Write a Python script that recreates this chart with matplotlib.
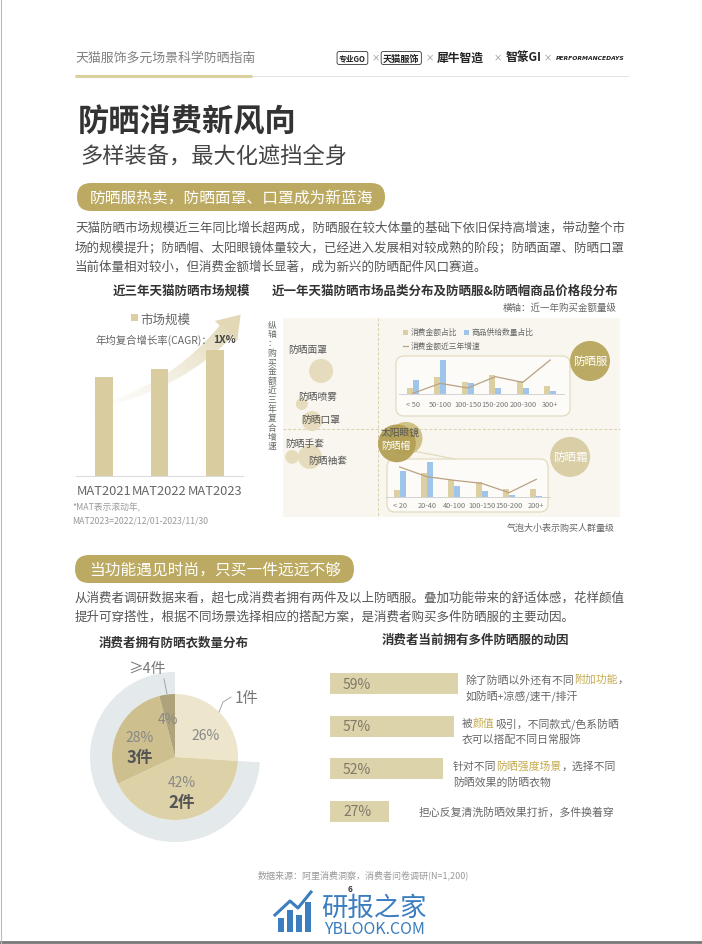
import numpy as np
import matplotlib
matplotlib.use('Agg')
import matplotlib.pyplot as plt
from matplotlib.patches import FancyBboxPatch, Rectangle, Wedge, Polygon
from matplotlib.collections import LineCollection
from matplotlib.colors import to_rgb

plt.rcParams['font.family'] = ['Noto Sans CJK SC', 'DejaVu Sans']

W, H = 702, 945

# ---- data ----
market_years = ['MAT2021', 'MAT2022', 'MAT2023']
market_size = [100, 108, 127]          # relative index, from bar heights

bubble_names = ['防晒面罩', '防晒喷雾', '防晒口罩', '防晒手套', '防晒袖套',
                '太阳眼镜', '防晒帽', '防晒霜', '防晒服']
bubble_amount = [11.3, 5.6, 8.6, 2.7, 8.0, 36.5, 33.8, 85.2, 91.1]    # x: 购买金额量级
bubble_growth = [73.4, 56.8, 48.2, 30.2, 30.2, 39.5, 37.0, 30.2, 78.4]  # y: 近三年复合增速
bubble_buyers = [300, 75, 205, 100, 300, 560, 740, 830, 830]          # 购买人群量级

cloth_price = ['< 50', '50-100', '100-150', '150-200', '200-300', '300+']
cloth_spend = [8, 23, 16, 25, 17, 11]
cloth_supply = [19, 46, 15, 8, 8, 4]
cloth_growth = [2, 32, 18, 52, 35, 102]

hat_price = ['< 20', '20-40', '40-100', '100-150', '150-200', '200+']
hat_spend = [9, 30, 21, 19, 10, 10]
hat_supply = [33, 44, 14, 7, 2, 1]
hat_growth = [90, 61, 50, 41, 13, 53]

own_labels = ['1件', '2件', '3件', '≥4件']
own_share = [26, 42, 28, 4]

reason_share = [59, 57, 52, 27]

GOLD = '#bcaa62'
BEIGE = '#dccfa2'
BLUE = '#9fc6ea'
LINEC = '#b9a285'
TXT = '#555555'

fig = plt.figure(figsize=(W / 100, H / 100), dpi=100, facecolor='white')
bg = fig.add_axes([0, 0, 1, 1], zorder=0)
bg.set_xlim(0, W)
bg.set_ylim(H, 0)
bg.axis('off')


def px_axes(x0, y0, x1, y1, z=1):
    ax = fig.add_axes([x0 / W, 1 - y1 / H, (x1 - x0) / W, (y1 - y0) / H], zorder=z)
    ax.set_facecolor('none')
    return ax


def pill(x0, y0, x1, y1, text, tx):
    bg.add_patch(FancyBboxPatch((x0, y0), x1 - x0, y1 - y0,
                                boxstyle='round,pad=0,rounding_size=%f' % ((y1 - y0) / 2),
                                fc=GOLD, ec='none'))
    bg.text(tx, (y0 + y1) / 2, text, color='white', fontsize=11.3, va='center')


def rich_line(x, y, parts, size=7.8):
    r = fig.canvas.get_renderer()
    for txt, col in parts:
        t = bg.text(x, y, txt, fontsize=size, color=col, va='center', ha='left')
        x += t.get_window_extent(renderer=r).width


# ---- header ----
bg.text(75, 58, '天猫服饰多元场景科学防晒指南', fontsize=9.3, color='#808080', va='center')
bg.plot([75, 252], [77, 77], color='#d9d19e', lw=2.2, solid_capstyle='butt')
bg.plot([252, 628], [77, 77], color='#dedede', lw=0.6)
bg.text(339, 59, '专业GO', fontsize=5.6, fontweight='bold', color='#222', va='center',
        bbox=dict(boxstyle='round,pad=0.25', fc='none', ec='#333', lw=0.6))
bg.text(383, 59, '天猫服饰', fontsize=6.6, fontweight='bold', color='#222', va='center',
        bbox=dict(boxstyle='round,pad=0.2', fc='none', ec='#333', lw=0.6))
bg.text(437, 58, '犀牛智造', fontsize=8.5, fontweight='bold', style='italic', color='#222', va='center')
bg.text(506, 57, '智篆GI', fontsize=8.5, fontweight='bold', color='#222', va='center')
bg.text(556, 58, 'PERFORMANCEDAYS', fontsize=4.3, fontweight='bold', style='italic',
        color='#222', va='center', family='DejaVu Sans')
for xm in [376, 430, 498, 548]:
    bg.text(xm, 58, '×', fontsize=6, color='#888', va='center', ha='center')

# ---- titles ----
bg.text(78, 123, '防晒消费新风向', fontsize=22.5, fontweight='bold', color='#333333', va='center')
bg.text(80, 157, '多样装备，最大化遮挡全身', fontsize=16, color='#444444', va='center')
pill(77, 184, 385, 212, '防晒服热卖，防晒面罩、口罩成为新蓝海', 90)

para1 = ['天猫防晒市场规模近三年同比增长超两成，防晒服在较大体量的基础下依旧保持高增速，带动整个市',
         '场的规模提升；防晒帽、太阳眼镜体量较大，已经进入发展相对较成熟的阶段；防晒面罩、防晒口罩',
         '当前体量相对较小，但消费金额增长显著，成为新兴的防晒配件风口赛道。']
for i, line in enumerate(para1):
    bg.text(75, 228 + 19.8 * i, line, fontsize=9, color=TXT, va='center')

# ---- left chart: market size ----
bg.text(181, 291, '近三年天猫防晒市场规模', fontsize=9, fontweight='bold', color='#333', va='center', ha='center')
bg.add_patch(Rectangle((131, 315), 6.5, 6.5, fc=BEIGE, ec='none'))
bg.text(140, 320, '市场规模', fontsize=9, color='#666', va='center')
bg.text(96, 340, '年均复合增长率(CAGR)：', fontsize=7.5, color='#666', va='center')
bg.text(213, 340, '1X%', fontsize=7.5, fontweight='bold', color='#444', va='center')

# swoosh arrow behind the bars
t = np.linspace(0, 1, 90)
p0, p1, p2 = np.array([86, 410]), np.array([172, 392]), np.array([226, 332])
curve = ((1 - t) ** 2)[:, None] * p0 + (2 * (1 - t) * t)[:, None] * p1 + (t ** 2)[:, None] * p2
segs = np.stack([curve[:-1], curve[1:]], axis=1)
cols = np.zeros((len(segs), 4))
cols[:, :3] = to_rgb('#e2d8b6')
cols[:, 3] = t[1:] ** 1.6
bg.add_collection(LineCollection(segs, colors=cols, linewidths=1 + 11 * t[1:], capstyle='butt'))
d = (p2 - p1) / np.linalg.norm(p2 - p1)
n = np.array([-d[1], d[0]])
bg.add_patch(Polygon([p2 + d * 22, p2 + n * 15, p2 - n * 15], closed=True, fc='#e2d8b6', ec='none'))

axm = px_axes(76, 300, 243, 477)
axm.bar(range(len(market_size)), market_size, width=0.32, color='#d9cc9f')
axm.set_xlim(-0.5, 2.5)
axm.set_ylim(0, 100 * 177 / 99)
axm.set_xticks(range(len(market_years)))
axm.set_xticklabels(market_years, fontsize=9.3, color='#666')
axm.tick_params(length=0, pad=6)
axm.set_yticks([])
for s in ['top', 'left', 'right']:
    axm.spines[s].set_visible(False)
axm.spines['bottom'].set_color('#dddddd')
axm.spines['bottom'].set_linewidth(0.8)
bg.text(72, 508, '*MAT表示滚动年,', fontsize=6.3, color='#999', va='center')
bg.text(72, 521, 'MAT2023=2022/12/01-2023/11/30', fontsize=6.3, color='#999', va='center')

# ---- right chart: bubbles + insets ----
bg.text(445, 291, '近一年天猫防晒市场品类分布及防晒服&防晒帽商品价格段分布', fontsize=9,
        fontweight='bold', color='#333', va='center', ha='center')
bg.text(617, 308, '横轴：近一年购买金额量级', fontsize=6.8, color='#666', va='center', ha='right')
bg.add_patch(Rectangle((283, 319), 337, 199, fc='#f8f6ee', ec='none'))
bg.plot([378, 378], [319, 518], color='#d8cfae', lw=0.7, ls=(0, (3, 2)))
bg.plot([283, 620], [430, 430], color='#d8cfae', lw=0.7, ls=(0, (3, 2)))
bg.text(272, 386, '\n'.join('纵轴：购买金额近三年复合增速'), fontsize=6.3, color='#666',
        va='center', ha='center', linespacing=1.05)
bg.text(615, 528, '气泡大小表示购买人群量级', fontsize=6.5, color='#666', va='center', ha='right')

# inset boxes
bg.add_patch(FancyBboxPatch((396, 357), 174, 60, boxstyle='round,pad=0,rounding_size=8',
                            fc='#fcfbf7', ec='#e3dbc0', lw=0.9))
bg.add_patch(FancyBboxPatch((387, 460), 161, 53, boxstyle='round,pad=0,rounding_size=8',
                            fc='#fcfbf7', ec='#e3dbc0', lw=0.9))
bg.plot([413, 455], [452, 460], color='#e3dbc0', lw=0.9)

# legend of insets
bg.add_patch(Rectangle((403, 330.5), 5, 5, fc=BEIGE, ec='none'))
bg.text(411, 333, '消费金额占比', fontsize=5.6, color='#666', va='center')
bg.add_patch(Rectangle((464, 330.5), 5, 5, fc=BLUE, ec='none'))
bg.text(472, 333, '商品供给数量占比', fontsize=5.6, color='#666', va='center')
bg.plot([403, 408], [347, 347], color=LINEC, lw=0.9)
bg.text(411, 347, '消费金额近三年增速', fontsize=5.6, color='#666', va='center')

axb = px_axes(283, 319, 620, 518, z=2)
bcol = ['#e5dbbb'] * 5 + ['#cdbd7e', '#b3a054', '#d8cca2', '#b8a65b']
axb.scatter(bubble_amount, bubble_growth, s=bubble_buyers, c=bcol, edgecolors='none', alpha=0.95)
axb.set_xlim(0, 100)
axb.set_ylim(0, 100)
axb.axis('off')
lab_off = {'防晒面罩': (-9.8, 11.0, 'left', '#555'), '防晒喷雾': (-1.2, 4.0, 'left', '#555'),
           '防晒口罩': (-3.3, 1.0, 'left', '#555'), '防晒手套': (-2.1, 7.0, 'left', '#555'),
           '防晒袖套': (-0.6, -1.6, 'left', '#555'), '太阳眼镜': (-7.4, 3.2, 'left', '#555'),
           '防晒帽': (-4.7, -0.8, 'left', 'white'), '防晒霜': (0, 0, 'center', 'white'),
           '防晒服': (0, 0.3, 'center', 'white')}
for nm, xv, yv in zip(bubble_names, bubble_amount, bubble_growth):
    dx, dy, ha, col = lab_off[nm]
    fs = 8.3 if nm in ('防晒霜', '防晒服') else 7
    axb.text(xv + dx, yv + dy, nm, fontsize=fs, color=col, ha=ha, va='center')


def inset(x0, y0, x1, y1, cats, spend, supply, growth, ytop, gtop, pad):
    ax = px_axes(x0, y0, x1, y1, z=3)
    xs = np.arange(len(cats))
    ax.bar(xs - 0.11, spend, width=0.22, color=BEIGE)
    ax.bar(xs + 0.11, supply, width=0.22, color=BLUE)
    ax.set_xlim(-0.5, len(cats) - 0.5)
    ax.set_ylim(0, ytop)
    ax.set_xticks(xs)
    ax.set_xticklabels(cats, fontsize=5.3, color='#777')
    ax.tick_params(length=0, pad=pad)
    ax.set_yticks([])
    for s in ['top', 'left', 'right']:
        ax.spines[s].set_visible(False)
    ax.spines['bottom'].set_color('#cccccc')
    ax.spines['bottom'].set_linewidth(0.6)
    ax2 = ax.twinx()
    ax2.plot(xs, growth, color=LINEC, lw=0.9)
    ax2.set_ylim(0, gtop)
    ax2.axis('off')


inset(399, 355, 564, 395, cloth_price, cloth_spend, cloth_supply, cloth_growth, 54, 120, 4)
inset(386, 460, 550, 498, hat_price, hat_spend, hat_supply, hat_growth, 47.8, 114, 3)

# ---- section 2 ----
pill(75, 556, 354, 584, '当功能遇见时尚，只买一件远远不够', 89)
para2 = ['从消费者调研数据来看，超七成消费者拥有两件及以上防晒服。叠加功能带来的舒适体感，花样颜值',
         '提升可穿搭性，根据不同场景选择相应的搭配方案，是消费者购买多件防晒服的主要动因。']
for i, line in enumerate(para2):
    bg.text(75, 598 + 19.5 * i, line, fontsize=9, color=TXT, va='center')

# pie
bg.text(174, 643, '消费者拥有防晒衣数量分布', fontsize=9, fontweight='bold', color='#333', va='center', ha='center')
axp = px_axes(75, 658, 275, 858)
axp.add_patch(Wedge((0, 0), 85, 90, 90 + (100 - own_share[0]) * 3.6, width=22, fc='#e4e9eb', ec='none'))
axp.pie(own_share, radius=63, startangle=90, counterclock=False,
        colors=['#ede5cc', '#ddd1a7', '#cdbf8e', '#afa37b'])
axp.set_xlim(-100, 100)
axp.set_ylim(-100, 100)
axp.set_aspect('equal')
axp.text(31, 22, '26%', fontsize=10, color='#888', ha='center', va='center')
axp.text(7, -25, '42%', fontsize=10, color='#888', ha='center', va='center')
axp.text(7, -45, own_labels[1], fontsize=12, fontweight='bold', color='#555', ha='center', va='center')
axp.text(-35, 20, '28%', fontsize=10, color='#888', ha='center', va='center')
axp.text(-35, 0, own_labels[2], fontsize=12, fontweight='bold', color='#555', ha='center', va='center')
axp.text(-7, 38, '4%', fontsize=10, color='#888', ha='center', va='center')
axp.plot([44, 48, 56], [45, 55, 60], color='#999', lw=0.6)
axp.text(60, 60, own_labels[0], fontsize=11, color='#777', ha='left', va='center')
axp.plot([-8, -11], [63, 78], color='#999', lw=0.6)
axp.text(-28, 89, own_labels[3], fontsize=10.5, color='#777', ha='center', va='center')

# reasons bar chart
bg.text(475, 640, '消费者当前拥有多件防晒服的动因', fontsize=9, fontweight='bold', color='#333', va='center', ha='center')
axr = px_axes(330, 663.5, 640, 833.5)
ys = np.arange(len(reason_share))
axr.barh(ys, reason_share, height=0.49, color='#dcd3ab')
axr.set_ylim(3.5, -0.5)
axr.set_xlim(0, 310 / 2.17)
axr.axis('off')
for yv, v in zip(ys, reason_share):
    axr.text(6, yv, '%d%%' % v, fontsize=10, color='#7d7868', va='center', ha='left')

HL = '#c4a94c'
G = '#666666'
rich_line(465, 680, [('除了防晒以外还有不同', G), ('附加功能', HL), ('，', G)])
rich_line(465, 696, [('如防晒+凉感/速干/排汗', G)])
rich_line(462, 724, [('被', G), ('颜值', HL), ('吸引，不同款式/色系防晒', G)])
rich_line(462, 739, [('衣可以搭配不同日常服饰', G)])
rich_line(453, 767, [('针对不同', G), ('防晒强度场景', HL), ('，选择不同', G)])
rich_line(453, 782, [('防晒效果的防晒衣物', G)])
rich_line(419, 812, [('担心反复清洗防晒效果打折，多件换着穿', G)])

# ---- footer ----
bg.text(363, 875, '数据来源：阿里消费洞察，消费者问卷调研(N=1,200)', fontsize=6.5, color='#999', va='center', ha='center')
bg.text(350, 890, '6', fontsize=6, fontweight='bold', color='#333', va='center', ha='center')
BLU = '#3b7dbf'
for bx, bh in zip([278, 287, 296, 305], [14, 22, 17, 30]):
    bg.add_patch(Rectangle((bx, 933 - bh), 5.5, bh, fc=BLU, ec='none'))
bg.plot([275, 290, 298, 311], [916, 902, 909, 893], color=BLU, lw=2.2)
bg.text(374, 908, '研报之家', fontsize=19, color=BLU, va='center', ha='center')
bg.text(374, 929, 'YBLOOK.COM', fontsize=11.5, color=BLU, va='center', ha='center')
bg.plot([0, W], [943, 943], color='#777', lw=2)
bg.plot([0.5, 0.5], [0, H], color='#bbb', lw=0.8)
bg.plot([W - 0.5, W - 0.5], [0, H], color='#bbb', lw=0.8)

fig.savefig('out.png', dpi=100, facecolor='white')
